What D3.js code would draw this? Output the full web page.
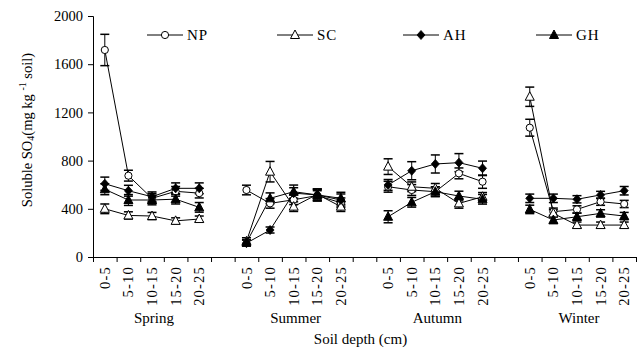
<!DOCTYPE html>
<html><head><meta charset="utf-8">
<script src="https://cdn.jsdelivr.net/npm/d3@7"></script>
<style>
body{margin:0;background:#fff;}
text{font-family:"Liberation Serif","Times New Roman",serif;fill:#000;}
</style></head>
<body><svg id="c" width="638" height="355"></svg>
<script>
const seasons = ["Spring","Summer","Autumn","Winter"];
const depths = ["0-5","5-10","10-15","15-20","20-25"];
const yTicks = [0,400,800,1200,1600,2000];
const seriesNames = ["NP","SC","AH","GH"];
// values per season (5 depths each)
const NP = [[1718,675,487,545,530],[556,445,475,510,450],[583,556,542,694,625],[1073,376,395,459,440]];
const SC = [[400,345,340,300,315],[130,708,418,520,418],[750,583,570,445,500],[1330,362,265,265,265]];
const AH = [[608,550,500,570,570],[115,224,530,515,473],[598,716,772,783,736],[487,487,479,515,550]];
const GH = [[562,473,473,480,412],[120,487,542,515,487],[334,454,542,506,479],[395,307,334,362,340]];
const NPerr = [[130,45,40,40,40],[40,40,40,40,40],[45,45,40,45,55],[70,30,30,30,30]];
const SCerr = [[40,30,30,25,25],[30,85,40,40,40],[65,40,40,40,35],[80,30,25,25,25]];
const AHerr = [[55,45,40,45,45],[25,25,45,50,50],[45,75,75,75,60],[35,35,30,30,35]];
const GHerr = [[45,45,40,40,40],[25,45,55,50,50],[50,40,40,40,40],[35,30,30,30,30]];

const svg = d3.select("#c");
const L=93, R=636, T=16, B=257;

// categories with blank gaps between seasons
const cats = [];
seasons.forEach((s,i)=>{ depths.forEach(d=>cats.push(s+"|"+d)); if(i<seasons.length-1) cats.push("gap"+i); });
const x = d3.scaleBand().domain(cats).range([L,R]).padding(0);
const y = d3.scaleLinear().domain([0,2000]).range([B,T]);

// y axis
const ya = svg.append("g").attr("transform",`translate(${L},0)`)
  .call(d3.axisLeft(y).tickValues(yTicks).tickSize(5).tickPadding(5).tickFormat(d3.format("d")));
ya.selectAll("text").style("font-size","14.5px");
ya.selectAll("path,line").attr("stroke","#000");

// x axis: tick marks at category boundaries
const xb = d3.scaleLinear().domain([0,cats.length]).range([L,R]);
const xa = svg.append("g").attr("transform",`translate(0,${B})`)
  .call(d3.axisBottom(xb).tickValues(d3.range(0,cats.length+1)).tickSize(5).tickSizeOuter(0).tickFormat(""));
xa.selectAll("path,line").attr("stroke","#000");
// category labels
const xl = svg.append("g").attr("transform",`translate(0,${B})`)
  .call(d3.axisBottom(x).tickSize(0).tickFormat(d=>d.startsWith("gap")?"":d.split("|")[1]));
xl.select(".domain").remove();
xl.selectAll("text").style("font-size","14.5px").style("letter-spacing","1.2px")
  .attr("transform","rotate(-90)").attr("text-anchor","end").attr("x",-9).attr("y",0).attr("dy","0.35em");

// season labels
svg.selectAll(".season").data(seasons).join("text").attr("class","season")
  .attr("x",s=>x(s+"|10-15")+x.bandwidth()/2+2).attr("y",323).attr("text-anchor","middle")
  .style("font-size","15px").text(s=>s);
svg.append("text").attr("x",(L+R)/2-4).attr("y",344).attr("text-anchor","middle")
  .style("font-size","15px").text("Soil depth (cm)");

// y label
const yl = svg.append("text").attr("transform","translate(32,130) rotate(-90)").attr("text-anchor","middle").style("font-size","14.5px");
yl.append("tspan").text("Soluble SO");
yl.append("tspan").text("4").style("font-size","10px").attr("dy","2");
yl.append("tspan").text("(mg kg ").attr("dy","-2");
yl.append("tspan").text("-1").style("font-size","10px").attr("dy","-6");
yl.append("tspan").text("  soil)").attr("dy","6");

// markers
function drawMarker(g, type, cx, cy){
  if(type==="NP") g.append("circle").attr("cx",cx).attr("cy",cy).attr("r",3.6).attr("fill","#fff").attr("stroke","#000").attr("stroke-width",1);
  else if(type==="AH") {
    const p = d3.path(); p.moveTo(cx,cy-4.5); p.lineTo(cx+4,cy); p.lineTo(cx,cy+4.5); p.lineTo(cx-4,cy); p.closePath();
    g.append("path").attr("d",p.toString()).attr("fill","#000").attr("stroke","#000").attr("stroke-width",0.8);
  }
  else {
    const p = d3.path(); p.moveTo(cx,cy-5); p.lineTo(cx+4.5,cy+3.5); p.lineTo(cx-4.5,cy+3.5); p.closePath();
    g.append("path").attr("d",p.toString()).attr("fill",type==="SC"?"#fff":"#000").attr("stroke","#000").attr("stroke-width",1);
  }
}
const data = {NP:[NP,NPerr],SC:[SC,SCerr],AH:[AH,AHerr],GH:[GH,GHerr]};
const line = d3.line().x(d=>d[0]).y(d=>d[1]);
const plot = svg.append("g");
seriesNames.forEach(name=>{
  const [vals,errs] = data[name];
  seasons.forEach((s,si)=>{
    const pts = depths.map((d,di)=>[x(s+"|"+d)+x.bandwidth()/2, y(vals[si][di]), vals[si][di], errs[si][di]]);
    const g = plot.append("g");
    g.append("path").attr("d",line(pts)).attr("fill","none").attr("stroke","#000").attr("stroke-width",1);
    pts.forEach(p=>{
      const t=y(p[2]+p[3]), b=y(p[2]-p[3]);
      g.append("line").attr("x1",p[0]).attr("x2",p[0]).attr("y1",t).attr("y2",b).attr("stroke","#000");
      g.append("line").attr("x1",p[0]-4.5).attr("x2",p[0]+4.5).attr("y1",t).attr("y2",t).attr("stroke","#000").attr("stroke-width",1.5);
      g.append("line").attr("x1",p[0]-4.5).attr("x2",p[0]+4.5).attr("y1",b).attr("y2",b).attr("stroke","#000").attr("stroke-width",1.5);
    });
  });
});
seriesNames.forEach(name=>{
  const [vals] = data[name];
  seasons.forEach((s,si)=>{
    depths.forEach((d,di)=>drawMarker(plot,name,x(s+"|"+d)+x.bandwidth()/2,y(vals[si][di])));
  });
});

// legend
const legX = [147,277,403,536];
seriesNames.forEach((n,i)=>{
  const g = svg.append("g");
  g.append("line").attr("x1",legX[i]).attr("x2",legX[i]+36).attr("y1",35).attr("y2",35).attr("stroke","#000");
  drawMarker(g,n,legX[i]+18,35);
  g.append("text").attr("x",legX[i]+40).attr("y",40).style("font-size","15px").style("letter-spacing","1px").text(n);
});
</script></body></html>
